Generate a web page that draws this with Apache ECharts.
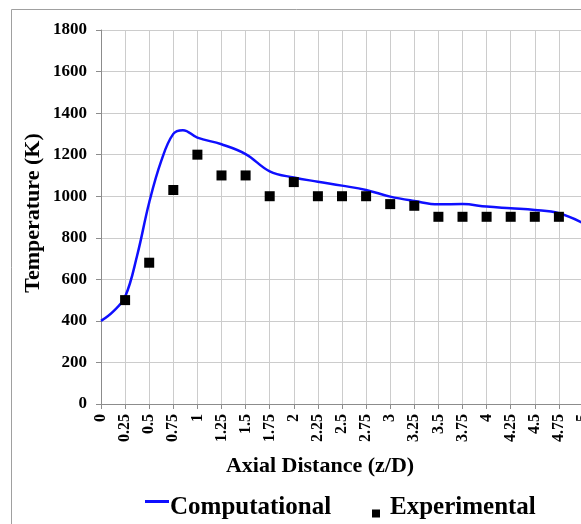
<!DOCTYPE html>
<html>
<head>
<meta charset="utf-8">
<script src="https://cdn.jsdelivr.net/npm/echarts@6/dist/echarts.min.js"></script>
<style>
html,body{margin:0;padding:0;background:#fff;}
#chart{width:581px;height:524px;}
</style>
</head>
<body>
<div id="chart"></div>
<script>
// ---- data ----
var xTickLabels = ['0','0.25','0.5','0.75','1','1.25','1.5','1.75','2','2.25','2.5','2.75','3','3.25','3.5','3.75','4','4.25','4.5','4.75','5'];
var yTickLabels = ['0','200','400','600','800','1000','1200','1400','1600','1800'];

var compX = [0, 0.125, 0.25, 0.375, 0.5, 0.625, 0.75, 0.85, 1.0, 1.25, 1.5, 1.75, 2.0, 2.25, 2.5, 2.75, 3.0, 3.25, 3.5, 3.75, 4.0, 4.25, 4.5, 4.75, 5.0];
var compT = [400, 445, 516, 715, 970, 1170, 1300, 1318, 1282, 1250, 1203, 1120, 1090, 1070, 1051, 1030, 998, 977, 961, 962, 950, 942, 934, 918, 871];

var expX = [0.25, 0.5, 0.75, 1.0, 1.25, 1.5, 1.75, 2.0, 2.25, 2.5, 2.75, 3.0, 3.25, 3.5, 3.75, 4.0, 4.25, 4.5, 4.75];
var expT = [500, 680, 1030, 1200, 1100, 1100, 1000, 1068, 1000, 1000, 1000, 962, 954, 901, 901, 901, 901, 901, 901];

var seriesNames = ['Computational', 'Experimental'];
var xTitle = 'Axial Distance (z/D)';
var yTitle = 'Temperature (K)';

// ---- build ----
var compData = compX.map(function (x, i) { return [x, compT[i]]; });
var expData = expX.map(function (x, i) { return [x, expT[i]]; });

var FONT = "'Liberation Serif', serif";
var chart = echarts.init(document.getElementById('chart'), null, { renderer: 'canvas' });

chart.setOption({
  animation: false,
  backgroundColor: '#ffffff',
  textStyle: { fontFamily: FONT, color: '#000' },
  grid: { left: 101, top: 30, right: -2, bottom: 120, containLabel: false, outerBoundsMode: 'none' },
  xAxis: {
    type: 'value', min: 0, max: 5, interval: 0.25,
    axisLine: { show: true, lineStyle: { color: '#8c8c8c', width: 1 } },
    axisTick: { show: true, length: 5, lineStyle: { color: '#8c8c8c' } },
    splitLine: { show: true, lineStyle: { color: '#cccccc', width: 1 } },
    axisLabel: {
      rotate: 90, margin: 10, color: '#000', fontFamily: FONT, fontWeight: 'bold', fontSize: 16,
      showMinLabel: true, showMaxLabel: true, hideOverlap: false,
      formatter: function (v) { return xTickLabels[Math.round(v / 0.25)]; }
    }
  },
  yAxis: {
    type: 'value', min: 0, max: 1800, interval: 200,
    axisLine: { show: true, lineStyle: { color: '#8c8c8c', width: 1 } },
    axisTick: { show: true, length: 5, lineStyle: { color: '#8c8c8c' } },
    splitLine: { show: true, lineStyle: { color: '#cccccc', width: 1 } },
    axisLabel: {
      margin: 14, color: '#000', fontFamily: FONT, fontWeight: 'bold', fontSize: 17,
      formatter: function (v) { return yTickLabels[Math.round(v / 200)]; }
    }
  },
  legend: [
    {
      data: [seriesNames[0]], left: 140, top: 490,
      icon: 'path://M0,0h24v3h-24z M0,14.99h0.01v0.01h-0.01z', itemWidth: 24, itemHeight: 15, itemGap: 0,
      itemStyle: { color: '#0f0fff', opacity: 1 },
      textStyle: { fontFamily: FONT, fontWeight: 'bold', fontSize: 25, color: '#000', padding: [0, 0, 0, -4] }
    },
    {
      data: [seriesNames[1]], left: 367, top: 490,
      icon: 'path://M0,0h0.01v0.01h-0.01z M0,12h8v8h-8z', itemWidth: 8, itemHeight: 20, itemGap: 0,
      itemStyle: { color: '#000', opacity: 1 },
      textStyle: { fontFamily: FONT, fontWeight: 'bold', fontSize: 25, color: '#000', padding: [0, 0, 0, 5] }
    }
  ],
  graphic: [
    { type: 'rect', silent: true, z: -10, shape: { x: 11.5, y: 9.5, width: 700, height: 700 },
      style: { fill: 'none', stroke: '#a0a0a0', lineWidth: 1 } },
    { type: 'text', x: 320, y: 466, style: { text: xTitle, fontFamily: FONT, fontWeight: 'bold', fontSize: 22, fill: '#000', align: 'center', verticalAlign: 'middle' } },
    { type: 'text', x: 33, y: 213, rotation: Math.PI / 2, style: { text: yTitle, fontFamily: FONT, fontWeight: 'bold', fontSize: 22, fill: '#000', align: 'center', verticalAlign: 'middle' } }
  ],
  series: [
    {
      name: seriesNames[0], type: 'line', data: compData, smooth: 0.4,
      showSymbol: false, symbol: 'none', z: 2,
      lineStyle: { color: '#0f0fff', width: 2.5 },
      itemStyle: { color: '#0f0fff' }
    },
    {
      name: seriesNames[1], type: 'scatter', data: expData,
      symbol: 'rect', symbolSize: 10, z: 3,
      itemStyle: { color: '#000', opacity: 1 }
    }
  ]
});
</script>
</body>
</html>
